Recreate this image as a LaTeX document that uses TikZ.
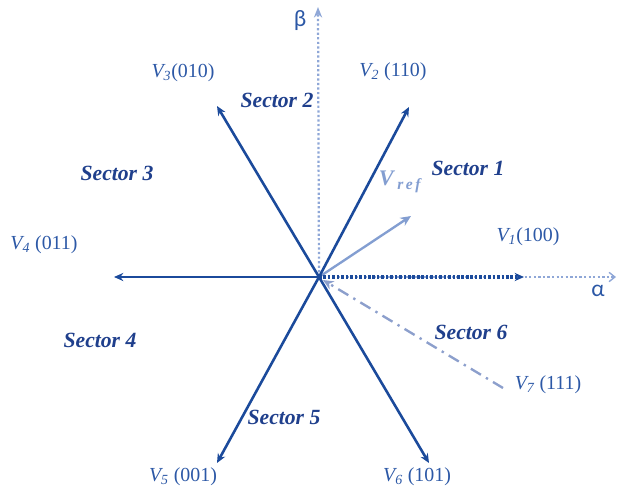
\documentclass[tikz,border=0pt]{standalone}
\usepackage{fontspec}
\setmainfont{Liberation Serif}
\newfontfamily\greekfont{Carlito}
\usepackage{tikz}
\usetikzlibrary{arrows.meta}
\usepackage{xcolor}
\definecolor{navy}{HTML}{1B4A9B}
\definecolor{sectc}{HTML}{1F3F8C}
\definecolor{labc}{HTML}{2C58A6}
\definecolor{pale}{HTML}{8FA7D7}
\definecolor{palev}{HTML}{8C9FCC}
\tikzset{
  vec/.style={navy,line width=2.2pt,-{Stealth[length=8pt,width=7pt]}},
  axis/.style={pale,line width=1.9pt,dotted},
  sect/.style={sectc,font=\fontsize{18.5}{21}\selectfont\bfseries\itshape},
  vlab/.style={labc,font=\fontsize{17}{20}\selectfont},
  glab/.style={labc,font=\fontsize{20}{23}\selectfont\greekfont}
}

\begin{document}
\begin{tikzpicture}[x=0.03cm,y=-0.03cm]
        \useasboundingbox (0,0) rectangle (619,490);
        % origin and vector tips
        \coordinate (O) at (319,277);
        \coordinate (alpha) at (616,277);
        \coordinate (beta) at (318,7);
        \coordinate (v1) at (524,277);
        \coordinate (v2) at (409,107);
        \coordinate (v3) at (217,106);
        \coordinate (v4) at (114,277);
        \coordinate (v5) at (217,463);
        \coordinate (v6) at (429,463);
        \coordinate (v7) at (503,388);
        \coordinate (v7end) at (323,280);
        \coordinate (vr) at (411,216);
        % axes
        \draw[axis,-{Straight Barb[length=5pt,width=8pt,line width=1.2pt]}] (O) -- (alpha);
        \draw[axis,-{Stealth[length=9pt,width=7pt]}] (O) -- (beta);
        % reference and zero vectors
        \draw[palev,line width=2pt,dash pattern=on 10pt off 5pt on 2pt off 5pt,
              -{Stealth[length=9pt,width=8pt]}] (v7) -- (v7end);
        \draw[pale!90!navy,line width=2pt,-{Stealth[length=9pt,width=8pt]}] (O) -- (vr);
        % active vectors
        \draw[vec,line width=2.6pt,dash pattern=on 2.2pt off 1.6pt] (O) -- (v1);
        \foreach \t in {v2,v3,v4,v5,v6}
          \draw[vec] (O) -- (\t);
        % labels
        \node[glab] (lb) at (300,21) {β};
        \node[glab] (la) at (598,291) {α};
        \node[vlab] (l1) at (528,237) {\textit{V\textsubscript{1}}(100)};
        \node[vlab] (l2) at (393,72) {\textit{V\textsubscript{2}} (110)};
        \node[vlab] (l3) at (183,73) {\textit{V\textsubscript{3}}(010)};
        \node[vlab] (l4) at (44,245) {\textit{V\textsubscript{4}} (011)};
        \node[vlab] (l5) at (183,477) {\textit{V\textsubscript{5}} (001)};
        \node[vlab] (l6) at (417,477) {\textit{V\textsubscript{6}} (101)};
        \node[vlab] (l7) at (548,385) {\textit{V\textsubscript{7}} (111)};
        \node[pale!90!navy,font=\fontsize{19}{22}\selectfont\bfseries\itshape] (lr) at (400,182) {V\,\textsubscript{r\,e\,f}};
        \node[sect] (s1) at (468,168) {Sector 1};
        \node[sect] (s2) at (277,100) {Sector 2};
        \node[sect] (s3) at (117,173) {Sector 3};
        \node[sect] (s4) at (100,340) {Sector 4};
        \node[sect] (s5) at (284,417) {Sector 5};
        \node[sect] (s6) at (471,332) {Sector 6};
      \end{tikzpicture}
\end{document}
